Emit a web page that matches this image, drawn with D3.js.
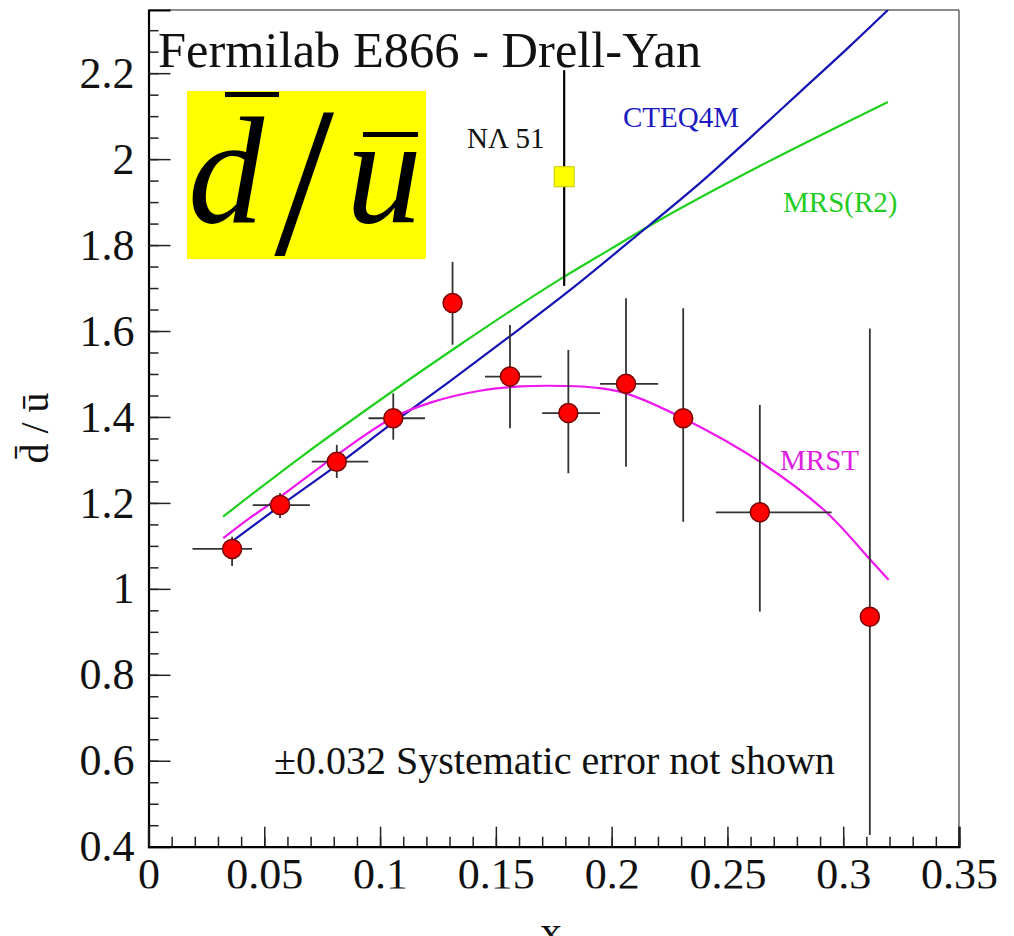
<!DOCTYPE html>
<html>
<head>
<meta charset="utf-8">
<script src="https://cdn.jsdelivr.net/npm/d3@7"></script>
<style>
  html, body { margin: 0; padding: 0; background: #fff; }
  svg { display: block; }
  svg text { font-family: "Liberation Serif", "Tinos", "Times New Roman", "DejaVu Serif", serif !important; }
</style>
</head>
<body>
<script>
// ---------------- DATA ----------------
const xTickValues = [0, 0.05, 0.1, 0.15, 0.2, 0.25, 0.3, 0.35];
const xTickLabels = ["0", "0.05", "0.1", "0.15", "0.2", "0.25", "0.3", "0.35"];
const yTickValues = [0.4, 0.6, 0.8, 1.0, 1.2, 1.4, 1.6, 1.8, 2.0, 2.2];
const yTickLabels = ["0.4", "0.6", "0.8", "1", "1.2", "1.4", "1.6", "1.8", "2", "2.2"];

// E866 data points
const e866X    = [0.0361, 0.0568, 0.0813, 0.1057, 0.1313, 0.1561, 0.1813, 0.2062, 0.2309, 0.2640, 0.3115];
const e866Y    = [1.093, 1.195, 1.296, 1.397, 1.665, 1.494, 1.409, 1.477, 1.397, 1.178, 0.935];
const e866YLo  = [1.053, 1.165, 1.258, 1.347, 1.568, 1.374, 1.269, 1.284, 1.156, 0.947, 0.427];
const e866YHi  = [1.121, 1.223, 1.335, 1.455, 1.761, 1.614, 1.556, 1.676, 1.653, 1.428, 1.606];
const e866XLo  = [0.019, 0.045, 0.0705, 0.095, null, 0.1453, 0.170, 0.195, null, 0.245, null];
const e866XHi  = [0.0447, 0.0697, 0.0949, 0.1194, null, 0.1698, 0.195, 0.2201, null, 0.295, null];

// NA51 point
const na51X = [0.1795];
const na51Y = [1.959];
const na51YLo = [1.705];
const na51YHi = [2.207];

// Theory curves
const cteqX = [0.0352, 0.0568, 0.0814, 0.1055, 0.1301, 0.1561, 0.1820, 0.2079, 0.2381, 0.2597, 0.2813, 0.3029, 0.3193];
const cteqY = [1.107, 1.193, 1.288, 1.386, 1.483, 1.588, 1.695, 1.809, 1.944, 2.049, 2.156, 2.263, 2.347];

const mrsr2X = [0.0322, 0.0654, 0.1086, 0.1345, 0.1604, 0.1794, 0.1993, 0.2209, 0.2640, 0.3193];
const mrsr2Y = [1.168, 1.305, 1.472, 1.568, 1.661, 1.726, 1.790, 1.859, 1.984, 2.133];

const mrstX = [0.0323, 0.0438, 0.0568, 0.0814, 0.1055, 0.1228, 0.1431, 0.1604, 0.1804, 0.1949, 0.2062, 0.2309, 0.2640, 0.2916, 0.3117, 0.3196];
const mrstY = [1.118, 1.165, 1.214, 1.312, 1.398, 1.435, 1.461, 1.471, 1.472, 1.467, 1.455, 1.397, 1.296, 1.184, 1.068, 1.021];

// ---------------- LAYOUT ----------------
const W = 1014, H = 936;
const plot = { left: 148.5, right: 959, top: 10, bottom: 846.7 };
const SERIF = '"Liberation Serif", "Tinos", "Times New Roman", "DejaVu Serif", serif';

const svg = d3.select("body").append("svg")
  .attr("width", W).attr("height", H)
  .attr("font-family", SERIF)
  .style("background", "#fff");

const x = d3.scaleLinear().domain([0, 0.35]).range([plot.left, plot.right]);
const y = d3.scaleLinear().domain([0.4, 2.347]).range([plot.bottom, plot.top]);

const defs = svg.append("defs");
defs.append("clipPath").attr("id", "plotclip")
  .append("rect").attr("x", plot.left).attr("y", plot.top)
  .attr("width", plot.right - plot.left).attr("height", plot.bottom - plot.top);
defs.append("clipPath").attr("id", "xlabclip")
  .append("rect").attr("x", 0).attr("y", 0).attr("width", W).attr("height", 888.5);

// frame (top & right thin grey)
svg.append("line").attr("x1", plot.left).attr("x2", plot.right).attr("y1", plot.top).attr("y2", plot.top)
  .attr("stroke", "#666").attr("stroke-width", 1.5);
svg.append("line").attr("x1", plot.right).attr("x2", plot.right).attr("y1", plot.top).attr("y2", plot.bottom)
  .attr("stroke", "#666").attr("stroke-width", 1.5);

// minor ticks
const yMinor = d3.range(0, 40).map(i => 0.4 + i * 0.05).filter(v => v <= 2.347 + 1e-9);
const xMinor = d3.range(0, 36).map(i => i * 0.01);

const yMinorG = svg.append("g").attr("transform", `translate(${plot.left},0)`)
  .call(d3.axisLeft(y).tickValues(yMinor).tickSize(-10).tickFormat(""));
yMinorG.select(".domain").remove();
yMinorG.selectAll("line").attr("stroke", "#222").attr("stroke-width", 1.5);

const xMinorG = svg.append("g").attr("transform", `translate(0,${plot.bottom})`)
  .call(d3.axisBottom(x).tickValues(xMinor).tickSize(-10).tickFormat(""));
xMinorG.select(".domain").remove();
xMinorG.selectAll("line").attr("stroke", "#222").attr("stroke-width", 1.5);

// major axes
const yG = svg.append("g").attr("transform", `translate(${plot.left},0)`)
  .call(d3.axisLeft(y).tickValues(yTickValues).tickSize(-22).tickPadding(14)
    .tickFormat((d, i) => yTickLabels[i]));
yG.attr("font-family", SERIF);
yG.select(".domain").attr("stroke", "#000").attr("stroke-width", 2.2);
yG.selectAll(".tick line").attr("stroke", "#222").attr("stroke-width", 1.5);
yG.selectAll(".tick text").attr("font-size", 44).attr("fill", "#111");

const xG = svg.append("g").attr("transform", `translate(0,${plot.bottom})`)
  .call(d3.axisBottom(x).tickValues(xTickValues).tickSize(-20).tickPadding(11)
    .tickFormat((d, i) => xTickLabels[i]));
xG.attr("font-family", SERIF);
xG.select(".domain").attr("stroke", "#000").attr("stroke-width", 2.2);
xG.selectAll(".tick line").attr("stroke", "#222").attr("stroke-width", 1.5);
// move x labels into a clipped group (the original's labels are cropped at the bottom)
const xLabClipG = svg.append("g").attr("clip-path", "url(#xlabclip)");
xG.selectAll(".tick text").each(function () {
  const t = d3.select(this);
  const tr = d3.select(this.parentNode).attr("transform");
  xLabClipG.append("g").attr("transform", `translate(0,${plot.bottom}) ${tr}`)
    .append("text").attr("y", t.attr("y")).attr("dy", t.attr("dy"))
    .attr("text-anchor", "middle").attr("font-size", 44).attr("fill", "#111")
    .text(t.text());
  t.remove();
});

// axis titles
svg.append("text").attr("x", 551).attr("y", 946).attr("text-anchor", "middle")
  .attr("font-size", 44).attr("fill", "#111").text("x");
svg.append("text").attr("transform", "translate(48,428) rotate(-90)")
  .attr("text-anchor", "middle").attr("font-size", 40).attr("fill", "#111")
  .text("d\u0304 / \u016B");

// title
svg.append("text").attr("x", 158).attr("y", 67).attr("font-size", 50.5).attr("fill", "#111")
  .text("Fermilab E866 - Drell-Yan");

// yellow box with d-bar / u-bar
svg.append("rect").attr("x", 187).attr("y", 91).attr("width", 239).attr("height", 168)
  .attr("fill", "#ffff00");
svg.append("text").attr("x", 188).attr("y", 222).attr("font-size", 152)
  .attr("font-style", "italic").attr("fill", "#000").text("d");
svg.append("text").attr("x", 304).attr("y", 254).attr("font-size", 215)
  .attr("text-anchor", "middle").attr("fill", "#000").text("/");
svg.append("text").attr("x", 346).attr("y", 222).attr("font-size", 152)
  .attr("font-style", "italic").attr("fill", "#000").text("u");
svg.append("rect").attr("x", 225).attr("y", 92).attr("width", 54).attr("height", 5).attr("fill", "#000");
svg.append("rect").attr("x", 363).attr("y", 132).attr("width", 55).attr("height", 5).attr("fill", "#000");

// theory curves
const curves = svg.append("g").attr("clip-path", "url(#plotclip)");
const lineGen = d3.line().x(d => x(d[0])).y(d => y(d[1])).curve(d3.curveCatmullRom.alpha(0.5));
function drawCurve(xs, ys, color) {
  curves.append("path").datum(xs.map((v, i) => [v, ys[i]]))
    .attr("d", lineGen).attr("fill", "none").attr("stroke", color).attr("stroke-width", 2.2);
}
drawCurve(mrsr2X, mrsr2Y, "#1fd01f");
drawCurve(cteqX, cteqY, "#1414b4");
drawCurve(mrstX, mrstY, "#ee18ee");

// curve labels
svg.append("text").attr("x", 623).attr("y", 127).attr("font-size", 29).attr("fill", "#1a1ac0").text("CTEQ4M");
svg.append("text").attr("x", 783).attr("y", 212).attr("font-size", 29).attr("fill", "#22cc22").text("MRS(R2)");
svg.append("text").attr("x", 780).attr("y", 470).attr("font-size", 29).attr("fill", "#e020e0").text("MRST");
svg.append("text").attr("x", 467).attr("y", 148).attr("font-size", 29).attr("fill", "#111").text("N\u039B 51");

// systematic note
svg.append("text").attr("x", 274).attr("y", 774).attr("font-size", 40).attr("fill", "#111")
  .text("\u00B10.032 Systematic error not shown");

// NA51 point
const na = svg.append("g");
na51X.forEach((v, i) => {
  na.append("line").attr("x1", x(v)).attr("x2", x(v)).attr("y1", y(na51YLo[i])).attr("y2", y(na51YHi[i]))
    .attr("stroke", "#000").attr("stroke-width", 2.2);
  na.append("rect").attr("x", x(v) - 10).attr("y", y(na51Y[i]) - 10).attr("width", 20).attr("height", 20)
    .attr("fill", "#ffff00").attr("stroke", "#c8c800").attr("stroke-width", 1);
});

// E866 points
const pts = svg.append("g");
e866X.forEach((v, i) => {
  pts.append("line").attr("x1", x(v)).attr("x2", x(v)).attr("y1", y(e866YLo[i])).attr("y2", y(e866YHi[i]))
    .attr("stroke", "#333").attr("stroke-width", 1.8);
  if (e866XLo[i] !== null) {
    pts.append("line").attr("x1", x(e866XLo[i])).attr("x2", x(e866XHi[i]))
      .attr("y1", y(e866Y[i])).attr("y2", y(e866Y[i]))
      .attr("stroke", "#333").attr("stroke-width", 1.8);
  }
});
pts.selectAll("circle").data(e866X.map((v, i) => [v, e866Y[i]])).join("circle")
  .attr("cx", d => x(d[0])).attr("cy", d => y(d[1])).attr("r", 9.5)
  .attr("fill", "#ff0000").attr("stroke", "#7a0000").attr("stroke-width", 1.5);
</script>
</body>
</html>
